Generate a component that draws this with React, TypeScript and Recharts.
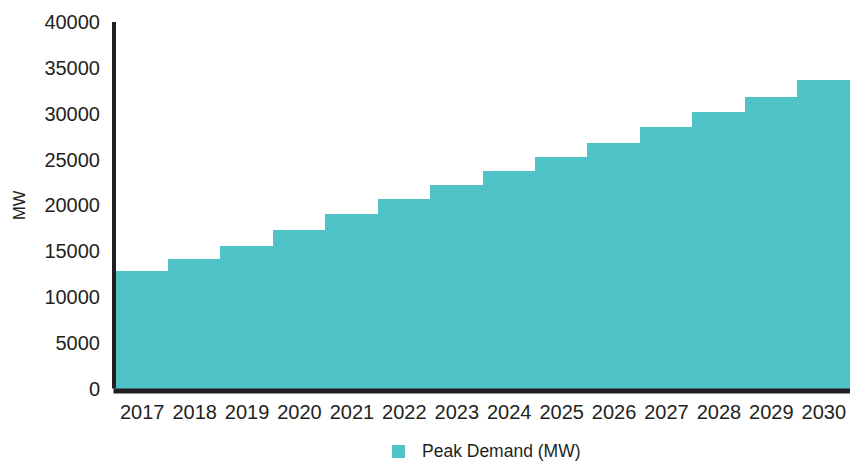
import React from 'react';
import { BarChart, Bar, XAxis, YAxis, Legend } from 'recharts';

const years = ['2017', '2018', '2019', '2020', '2021', '2022', '2023', '2024', '2025', '2026', '2027', '2028', '2029', '2030'];
const peakDemand = [12760, 14040, 15530, 17240, 18950, 20590, 22120, 23680, 25180, 26780, 28450, 30130, 31730, 33620];
const yTicks = [0, 5000, 10000, 15000, 20000, 25000, 30000, 35000, 40000];
const seriesName = 'Peak Demand (MW)';
const yLabel = 'MW';

const data = years.map((y, i) => ({ year: y, demand: peakDemand[i] }));

const TEAL = '#4FC2C7';
const INK = '#231F20';
const FONT = '"Liberation Sans", Arial, sans-serif';

const LegendContent = () => (
  <div style={{ display: 'flex', alignItems: 'center', fontFamily: FONT, fontSize: 17.5, color: INK }}>
    <span style={{ display: 'inline-block', width: 13, height: 13, background: TEAL, marginRight: 17 }} />
    <span>{seriesName}</span>
  </div>
);

export default function App() {
  return (
    <div style={{ position: 'absolute', left: 0, top: 0, width: 850, height: 461, background: '#fff' }}>
      <BarChart
        width={850}
        height={461}
        data={data}
        margin={{ top: 22, right: 0, bottom: 32.5, left: 0 }}
        barCategoryGap={0}
        barGap={0}
      >
        <XAxis
          dataKey="year"
          interval={0}
          tickLine={false}
          tickSize={6}
          tickMargin={10}
          height={40}
          axisLine={{ stroke: INK, strokeWidth: 5, strokeLinecap: 'square', transform: 'translate(0,2.5)' } as any}
          tick={{ fill: INK, fontSize: 20, fontFamily: FONT }}
        />
        <YAxis
          width={116}
          domain={[0, 40000]}
          ticks={yTicks}
          interval={0}
          tickLine={false}
          tickSize={6}
          tickMargin={10}
          axisLine={{ stroke: INK, strokeWidth: 4, transform: 'translate(-2,0)' } as any}
          tick={{ fill: INK, fontSize: 20, fontFamily: FONT }}
          label={{ value: yLabel, angle: -90, position: 'insideLeft', offset: 19, style: { fill: INK, fontSize: 16.5, fontFamily: FONT, textAnchor: 'middle' } }}
        />
        <Legend
          layout="horizontal"
          verticalAlign="middle"
          align="center"
          content={<LegendContent />}
          wrapperStyle={{ position: 'absolute', left: 392, top: 441, width: 300 }}
        />
        <Bar
          dataKey="demand"
          name={seriesName}
          fill={TEAL}
          stroke={TEAL}
          strokeWidth={1}
          shapeRendering="crispEdges"
          isAnimationActive={false}
        />
      </BarChart>
    </div>
  );
}
